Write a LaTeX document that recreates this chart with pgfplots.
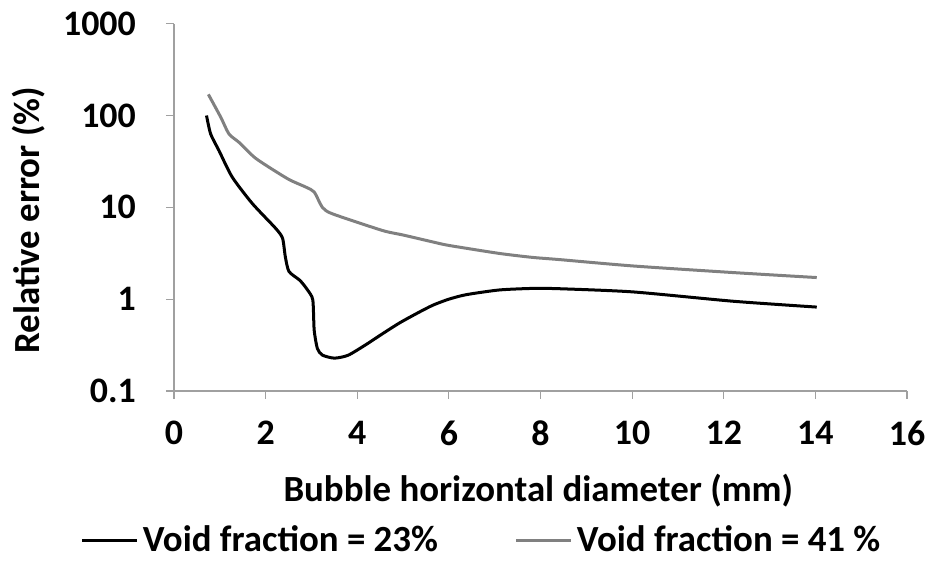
\documentclass[border=0pt]{standalone}
\usepackage{pgfplots}
\pgfplotsset{compat=1.18}
\usepackage{fontspec}
\setmainfont{Carlito}
\definecolor{axgray}{RGB}{160,160,160}
\definecolor{linegray}{RGB}{128,128,128}
\begin{document}
\fontsize{36}{43}\selectfont\bfseries
\begin{tikzpicture}
\path[use as bounding box] (-174bp,-170bp) rectangle (756bp,391bp);
\begin{axis}[
  name=ax, at={(0,0)}, anchor=south west,
  scale only axis, width=733bp, height=367.3bp,
  ymode=log, xmin=0, xmax=16, ymin=0.1, ymax=1000,
  axis x line*=bottom, axis y line*=left,
  axis line style={axgray, line width=1.2bp},
  every tick/.style={axgray, line width=1.2bp},
  tick align=outside, major tick length=8bp,
  xtick={0,2,4,6,8,10,12,14,16},
  xticklabels={0,2,4,6,8,10,12,14,16},
  ytick={0.1,1,10,100,1000},
  yticklabels={0.1,1,10,100,1000},
  minor tick num=0, yminorticks=false,
  /pgf/number format/assume math mode=true,
  tick label style={font=\fontsize{36}{43}\selectfont\bfseries},
  xticklabel style={font=\fontsize{36}{43}\selectfont\bfseries, yshift=-10bp},
  yticklabel style={font=\fontsize{36}{43}\selectfont\bfseries, xshift=-18bp},
  xlabel={Bubble horizontal diameter (mm)},
  ylabel={Relative error (\%)},
  label style={font=\fontsize{37}{44}\selectfont\bfseries},
  xlabel style={at={(axis description cs:0.497,-0.27)}, anchor=center},
  ylabel style={at={(axis description cs:-0.199,0.465)}, anchor=center, rotate=0},
  legend columns=2,
  legend style={draw=none, at={(axis description cs:0.419,-0.408)}, anchor=center,
    font=\fontsize{37}{44}\selectfont\bfseries,
    nodes={inner sep=1bp},
    /tikz/every odd column/.append style={column sep=3bp},
    /tikz/every even column/.append style={column sep=76bp}},
  legend image code/.code={\draw[#1] (0bp,0bp) -- (55bp,0bp);},
  clip=false,
]
\addplot[black, line width=3bp, smooth, tension=0.4] coordinates {
(0.71,100) (0.80,63) (0.98,41.7) (1.27,21.4) (1.71,11) (2.22,5.9) (2.37,4.6)
(2.43,2.9) (2.51,2.0) (2.75,1.6) (2.92,1.25) (3.03,0.98) (3.06,0.46) (3.13,0.29)
(3.24,0.246) (3.5,0.228) (3.8,0.245) (4.19,0.32) (4.55,0.42) (4.92,0.55)
(5.3,0.7) (5.65,0.86) (6.0,1.0) (6.38,1.12) (7.1,1.26) (7.83,1.31) (8.41,1.3)
(10.02,1.2) (12.2,0.95) (14.03,0.82)
};
\addlegendentry{Void fraction = 23\%}
\addplot[linegray, line width=3bp, smooth, tension=0.4] coordinates {
(0.75,170) (1.02,96) (1.2,63) (1.42,51) (1.79,34) (2.48,20.5) (2.88,16.6)
(3.06,14.7) (3.24,10) (3.46,8.5) (4.55,5.6) (5.0,5.0) (5.65,4.2) (6.0,3.85)
(7.1,3.15) (7.83,2.85) (8.41,2.7) (10.02,2.3) (12.2,1.95) (14.03,1.72)
};
\addlegendentry{Void fraction = 41 \%}
\end{axis}
\end{tikzpicture}
\end{document}
